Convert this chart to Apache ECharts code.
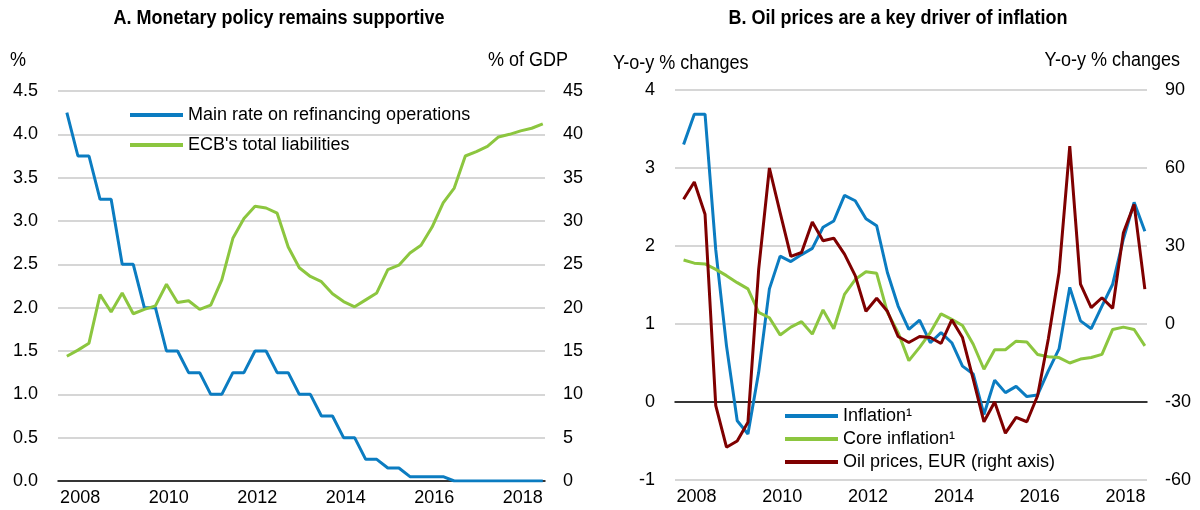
<!DOCTYPE html>
<html>
<head>
<meta charset="utf-8">
<script src="https://cdn.jsdelivr.net/npm/echarts@6/dist/echarts.min.js"></script>
<style>
  html, body { margin: 0; padding: 0; background: #fff; }
  #chart { width: 1200px; height: 510px; }
</style>
</head>
<body>
<div id="chart"></div>
<script>
// years shown on both x axes
var years = ['2008', '2009', '2010', '2011', '2012', '2013', '2014', '2015', '2016', '2017', '2018'];

// Panel A, quarterly
var mainRate = [4.25, 3.75, 3.75, 3.25, 3.25, 2.5, 2.5, 2.0, 2.0, 1.5, 1.5, 1.25, 1.25, 1.0, 1.0,
  1.25, 1.25, 1.5, 1.5, 1.25, 1.25, 1.0, 1.0, 0.75, 0.75, 0.5, 0.5, 0.25, 0.25, 0.15, 0.15,
  0.05, 0.05, 0.05, 0.05, 0, 0, 0, 0, 0, 0, 0, 0, 0];
var ecbLiab = [14.4, 15.1, 15.9, 21.5, 19.5, 21.7, 19.3, 19.8, 20.2, 22.7, 20.6, 20.8, 19.8, 20.3,
  23.2, 28.0, 30.3, 31.7, 31.5, 30.9, 27.0, 24.6, 23.6, 23.0, 21.6, 20.7, 20.1, 20.9, 21.7,
  24.4, 24.9, 26.3, 27.2, 29.3, 32.1, 33.8, 37.5, 38.0, 38.6, 39.7, 40.0, 40.4, 40.7, 41.2];

// Panel B, quarterly
var inflation = [3.30, 3.69, 3.69, 1.95, 0.72, -0.24, -0.41, 0.38, 1.45, 1.87, 1.80, 1.89, 1.97,
  2.24, 2.32, 2.65, 2.58, 2.35, 2.26, 1.66, 1.23, 0.93, 1.05, 0.76, 0.89, 0.76, 0.46, 0.36,
  -0.16, 0.28, 0.12, 0.20, 0.07, 0.09, 0.40, 0.68, 1.47, 1.04, 0.94, 1.23, 1.51, 2.09, 2.56, 2.19];
var coreInfl = [1.82, 1.78, 1.77, 1.70, 1.62, 1.53, 1.45, 1.15, 1.08, 0.86, 0.96, 1.03, 0.87, 1.18,
  0.94, 1.38, 1.57, 1.67, 1.65, 1.15, 0.89, 0.53, 0.70, 0.89, 1.13, 1.06, 0.98, 0.74, 0.42,
  0.67, 0.67, 0.78, 0.77, 0.61, 0.58, 0.57, 0.50, 0.55, 0.57, 0.61, 0.93, 0.96, 0.93, 0.72];
var oilEur = [48, 54.6, 42.2, -31.4, -47.4, -45, -37.8, 21, 60, 42.8, 26, 27.5, 39.2, 32, 33,
  26.9, 18.6, 4.9, 9.9, 4.9, -4.8, -7.1, -4.8, -5.2, -7.5, 1.6, -5.2, -21.2, -37.6, -30,
  -42, -35.9, -37.6, -27.6, -5.8, 19.8, 68.4, 15.3, 6.3, 10.1, 6.0, 35.1, 46, 13.4];

var FONT = "'Liberation Sans Narrow','Arial Narrow','Liberation Sans',Arial,sans-serif";
var FS = 18;
var BLUE = '#0b7cc1', GREEN = '#8cc63f', RED = '#7f0000';

function q(arr) {
  return arr.map(function (v, i) { return [i + 0.8, v]; });
}

function yearAxis(gridIndex) {
  return {
    type: 'category', gridIndex: gridIndex, data: years, boundaryGap: true,
    axisLine: { lineStyle: { color: '#000', width: 1.5 } },
    axisTick: { inside: true, length: 5, interval: 0, alignWithLabel: false, lineStyle: { color: '#000', width: 1.5 } },
    axisLabel: { interval: 1, color: '#000', fontSize: FS, fontFamily: FONT, margin: 8 },
    splitLine: { show: false }
  };
}
function quarterAxis(gridIndex) {
  return { type: 'value', gridIndex: gridIndex, min: 0, max: 44, show: false };
}
function valAxis(gridIndex, pos, min, max, step, grid, dec) {
  return {
    type: 'value', gridIndex: gridIndex, position: pos, min: min, max: max, interval: step,
    axisLine: { show: false }, axisTick: { show: false },
    axisLabel: {
      color: '#000', fontSize: FS, fontFamily: FONT, margin: pos === 'left' ? 20 : 18,
      formatter: function (v) { return dec ? v.toFixed(1) : String(v); }
    },
    splitLine: { show: grid, lineStyle: { color: '#c8c8c8', width: 1.5 } }
  };
}

var chart = echarts.init(document.getElementById('chart'));
chart.setOption({
  animation: false,
  textStyle: { fontFamily: FONT },
  grid: [
    { left: 58, right: 655, top: 91, bottom: 29 },
    { left: 675, right: 53, top: 90, bottom: 30 }
  ],
  xAxis: [yearAxis(0), quarterAxis(0), yearAxis(1), quarterAxis(1)],
  yAxis: [
    valAxis(0, 'left', 0, 4.5, 0.5, true, true),
    valAxis(0, 'right', 0, 45, 5, false, false),
    valAxis(1, 'left', -1, 4, 1, true, false),
    valAxis(1, 'right', -60, 90, 30, false, false)
  ],
  legend: [
    {
      orient: 'vertical', left: 130, top: 105, padding: 0, icon: 'rect', itemWidth: 53, itemHeight: 4, itemGap: 10,
      textStyle: { color: '#000', fontSize: FS, fontFamily: FONT, lineHeight: 20 },
      data: ['Main rate on refinancing operations', "ECB's total liabilities"]
    },
    {
      orient: 'vertical', left: 785, top: 406, padding: 0, icon: 'rect', itemWidth: 53, itemHeight: 4, itemGap: 3,
      textStyle: { color: '#000', fontSize: FS, fontFamily: FONT, lineHeight: 20 },
      data: ['Inflation¹', 'Core inflation¹', 'Oil prices, EUR (right axis)']
    }
  ],
  series: [
    { name: 'Main rate on refinancing operations', type: 'line', xAxisIndex: 1, yAxisIndex: 0,
      data: q(mainRate), showSymbol: false, lineStyle: { color: BLUE, width: 3 }, itemStyle: { color: BLUE }, z: 3 },
    { name: "ECB's total liabilities", type: 'line', xAxisIndex: 1, yAxisIndex: 1,
      data: q(ecbLiab), showSymbol: false, lineStyle: { color: GREEN, width: 3 }, itemStyle: { color: GREEN } },
    { name: 'Inflation¹', type: 'line', xAxisIndex: 3, yAxisIndex: 2,
      data: q(inflation), showSymbol: false, lineStyle: { color: BLUE, width: 3 }, itemStyle: { color: BLUE } },
    { name: 'Core inflation¹', type: 'line', xAxisIndex: 3, yAxisIndex: 2,
      data: q(coreInfl), showSymbol: false, lineStyle: { color: GREEN, width: 3 }, itemStyle: { color: GREEN } },
    { name: 'Oil prices, EUR (right axis)', type: 'line', xAxisIndex: 3, yAxisIndex: 3,
      data: q(oilEur), showSymbol: false, lineStyle: { color: RED, width: 3 }, itemStyle: { color: RED }, z: 4 }
  ],
  graphic: [
    { type: 'text', x: 279, y: 18, scaleX: 0.9, originX: 0,
      style: { text: 'A. Monetary policy remains supportive', font: 'bold 20px ' + FONT, fill: '#000', textAlign: 'center', textVerticalAlign: 'middle' } },
    { type: 'text', x: 898, y: 18, scaleX: 0.9, originX: 0,
      style: { text: 'B. Oil prices are a key driver of inflation', font: 'bold 20px ' + FONT, fill: '#000', textAlign: 'center', textVerticalAlign: 'middle' } },
    { type: 'text', x: 10, y: 60, scaleX: 0.9,
      style: { text: '%', font: '20px ' + FONT, fill: '#000', textAlign: 'left', textVerticalAlign: 'middle' } },
    { type: 'text', x: 568, y: 60, scaleX: 0.9,
      style: { text: '% of GDP', font: '20px ' + FONT, fill: '#000', textAlign: 'right', textVerticalAlign: 'middle' } },
    { type: 'text', x: 613, y: 63, scaleX: 0.9,
      style: { text: 'Y-o-y % changes', font: '20px ' + FONT, fill: '#000', textAlign: 'left', textVerticalAlign: 'middle' } },
    { type: 'text', x: 1180, y: 60, scaleX: 0.9,
      style: { text: 'Y-o-y % changes', font: '20px ' + FONT, fill: '#000', textAlign: 'right', textVerticalAlign: 'middle' } }
  ]
});
</script>
</body>
</html>
